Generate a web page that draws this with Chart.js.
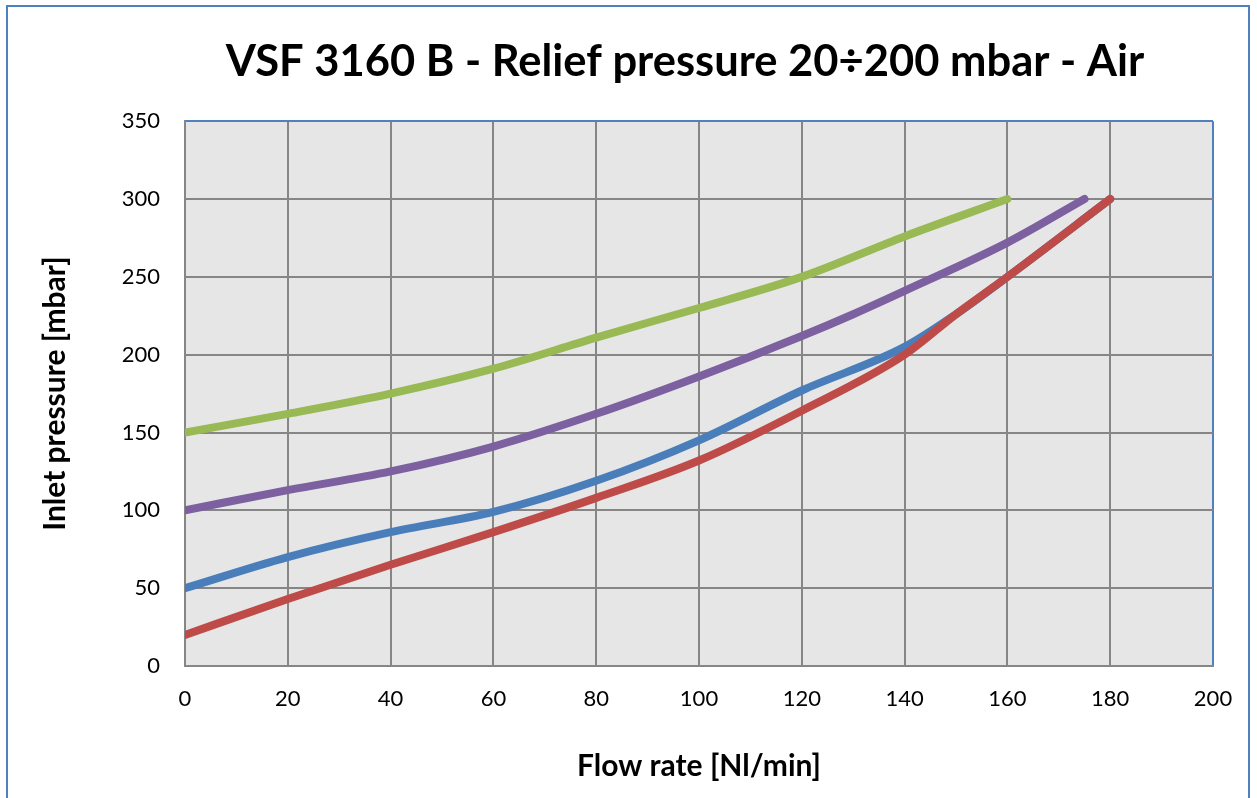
<!DOCTYPE html>
<html lang="en">
  <head>
    <meta charset="UTF-8" />
    <title>VSF 3160 B - Relief pressure</title>
    <script src="https://cdn.jsdelivr.net/npm/chart.js@4.4.0/dist/chart.umd.min.js"></script>
    <style>
      body { margin: 0; background: #fff; }
      #wrap { width: 1257px; height: 798px; }
    </style>
  </head>
  <body>
    <div id="wrap"><canvas id="myChart"></canvas></div>
    <script>
    // values
    const flowBlue = [0, 20, 40, 60, 80, 100, 120, 140, 150, 160, 180];
    const pressBlue = [50, 70, 86, 99, 119, 145, 177, 205, 226, 250, 300];
    const flowRed = [0, 20, 40, 60, 80, 100, 120, 140, 150, 160, 180];
    const pressRed = [20, 43, 65, 86, 108, 132, 164, 200, 226, 250, 300];
    const flowPurple = [0, 20, 40, 60, 80, 100, 120, 130, 140, 160, 175];
    const pressPurple = [100, 113, 125, 141, 162, 186, 212, 226, 241, 272, 300];
    const flowGreen = [0, 20, 40, 60, 80, 100, 120, 140, 160];
    const pressGreen = [150, 162, 175, 191, 211, 230, 250, 276, 300];

    const xTicks = [0, 20, 40, 60, 80, 100, 120, 140, 160, 180, 200];
    const yTicks = [0, 50, 100, 150, 200, 250, 300, 350];

    function pts(xs, ys) {
      return xs.map((x, i) => ({ x: x, y: ys[i] }));
    }

    const FONT = 'Lato, "Open Sans", sans-serif';

    function lineSet(label, data, color) {
      return {
        label: label,
        data: data,
        borderColor: color,
        backgroundColor: color,
        borderWidth: 8,
        pointRadius: 0,
        borderCapStyle: 'round',
        cubicInterpolationMode: 'monotone',
        fill: false
      };
    }

    // outer frame of the chart object + grey plot area
    const frame = {
      id: 'frame',
      afterLayout(chart) {
        // excel centres the title a little left of the plot area
        if (chart.titleBlock) {
          chart.titleBlock.left -= 14;
          chart.titleBlock.right -= 14;
        }
      },
      beforeDraw(chart) {
        const c = chart.ctx;
        const a = chart.chartArea;
        c.save();
        c.fillStyle = '#fff';
        c.fillRect(0, 0, chart.width, chart.height);
        c.strokeStyle = '#4f81bd';
        c.lineWidth = 2;
        c.strokeRect(7, 6, chart.width - 15, chart.height + 10);
        c.fillStyle = '#e6e6e6';
        c.fillRect(a.left, a.top, a.right - a.left, a.bottom - a.top);
        c.restore();
      }
    };

    const ctx = document.getElementById('myChart').getContext('2d');
    new Chart(ctx, {
      type: 'line',
      data: {
        datasets: [
          lineSet('Green', pts(flowGreen, pressGreen), '#98b954'),
          lineSet('Purple', pts(flowPurple, pressPurple), '#7d60a0'),
          lineSet('Red', pts(flowRed, pressRed), '#be4b48'),
          lineSet('Blue', pts(flowBlue, pressBlue), '#4a7ebb')
        ]
      },
      options: {
        responsive: true,
        maintainAspectRatio: false,
        animation: false,
        layout: { padding: { left: 30, right: 44, top: 0, bottom: 14 } },
        plugins: {
          legend: { display: false },
          tooltip: { enabled: false },
          title: {
            display: true,
            text: 'VSF 3160 B - Relief pressure 20÷200 mbar - Air',
            fullSize: false,
            color: '#000',
            font: { family: FONT, size: 43.5, weight: 'bold' },
            padding: { top: 36, bottom: 33 }
          }
        },
        scales: {
          x: {
            type: 'linear',
            min: 0,
            max: 200,
            afterBuildTicks: (s) => { s.ticks = xTicks.map(v => ({ value: v })); },
            afterFit: (s) => { s.height = 118; },
            grid: {
              color: (c) => c.tick && c.tick.value === 200 ? '#4f81bd' : '#868686',
              lineWidth: 2,
              drawTicks: false
            },
            border: { color: '#868686', width: 2 },
            ticks: { color: '#000', padding: 20, font: { family: FONT, size: 22 } },
            title: {
              display: true,
              text: 'Flow rate [Nl/min]',
              color: '#000',
              font: { family: FONT, size: 30, weight: 'bold' },
              padding: { top: 0, bottom: 0 }
            }
          },
          y: {
            type: 'linear',
            min: 0,
            max: 350,
            afterBuildTicks: (s) => { s.ticks = yTicks.map(v => ({ value: v })); },
            afterFit: (s) => { s.width = 155; },
            grid: {
              color: (c) => c.tick && c.tick.value === 350 ? '#4f81bd' : '#868686',
              lineWidth: 2,
              drawTicks: false
            },
            border: { color: '#868686', width: 2 },
            ticks: { color: '#000', padding: 25, font: { family: FONT, size: 22 } },
            title: {
              display: true,
              text: 'Inlet pressure [mbar]',
              color: '#000',
              font: { family: FONT, size: 30, weight: 'bold' },
              padding: { top: 7, bottom: 0 }
            }
          }
        }
      },
      plugins: [frame]
    });
    </script>
  </body>
</html>
